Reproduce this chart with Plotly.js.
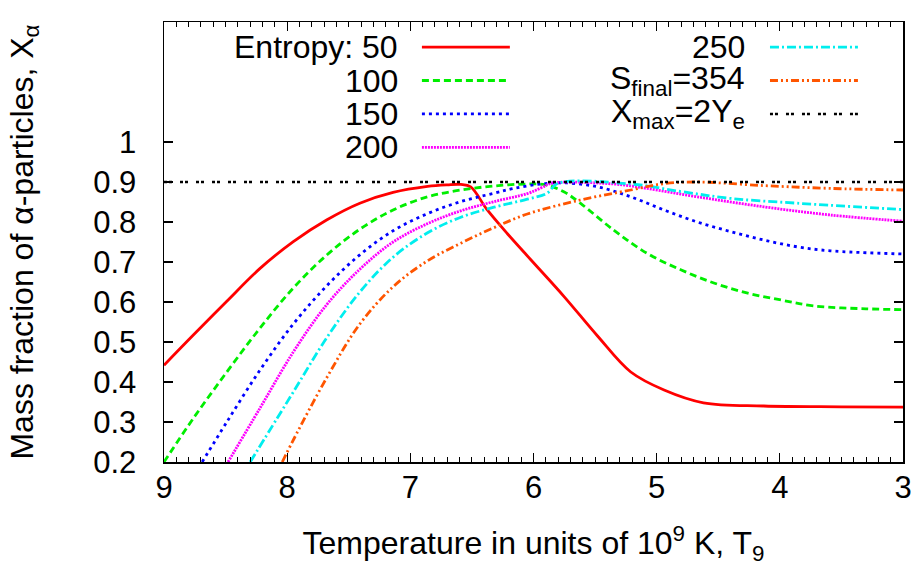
<!DOCTYPE html>
<html>
<head>
<meta charset="utf-8">
<script src="https://cdn.plot.ly/plotly-3.0.1.min.js"></script>
<style>html,body{margin:0;padding:0;background:#fff;}#chart{width:917px;height:570px;}</style>
</head>
<body>
<div id="chart"></div>
<script>
// Series data: temperature T9 and alpha mass fraction
const T50  = [9, 8.76, 8.49, 8.22, 7.95, 7.68, 7.41, 7.14, 6.86, 6.7, 6.59, 6.51, 6.38, 6.21, 6.02, 5.75, 5.48, 5.21, 4.94, 4.62, 4.13, 3.5, 3];
const X50  = [0.442, 0.518, 0.602, 0.684, 0.751, 0.805, 0.847, 0.874, 0.889, 0.893, 0.894, 0.888, 0.832, 0.77, 0.705, 0.613, 0.515, 0.425, 0.38, 0.348, 0.34, 0.338, 0.337];

const T100 = [9, 8.76, 8.49, 8.22, 7.95, 7.68, 7.41, 7.14, 6.86, 6.59, 6.32, 6.05, 5.9, 5.75, 5.62, 5.35, 5.08, 4.8, 4.53, 4.26, 3.99, 3.72, 3.3, 3];
const X100 = [0.2, 0.31, 0.425, 0.535, 0.635, 0.717, 0.782, 0.83, 0.863, 0.88, 0.89, 0.895, 0.893, 0.875, 0.847, 0.78, 0.722, 0.68, 0.647, 0.622, 0.605, 0.59, 0.583, 0.581];

const T150 = [8.69, 8.49, 8.22, 7.95, 7.68, 7.41, 7.14, 6.86, 6.59, 6.32, 6.16, 5.94, 5.75, 5.48, 5.21, 4.94, 4.67, 4.4, 4.13, 3.86, 3.59, 3];
const X150 = [0.2, 0.3, 0.43, 0.545, 0.64, 0.718, 0.778, 0.821, 0.851, 0.872, 0.884, 0.895, 0.898, 0.888, 0.863, 0.83, 0.8, 0.776, 0.755, 0.738, 0.728, 0.72];

const T200 = [8.48, 8.22, 7.95, 7.68, 7.41, 7.14, 6.86, 6.59, 6.32, 6.05, 5.94, 5.85, 5.35, 5.08, 4.67, 4.13, 3.59, 3];
const X200 = [0.2, 0.335, 0.475, 0.593, 0.682, 0.75, 0.796, 0.828, 0.851, 0.871, 0.885, 0.897, 0.895, 0.884, 0.863, 0.838, 0.8175, 0.802];

const T250 = [8.3, 8.08, 7.95, 7.68, 7.41, 7.14, 6.86, 6.59, 6.32, 6.05, 5.89, 5.8, 5.21, 4.8, 4.4, 3.86, 3];
const X250 = [0.2, 0.31, 0.375, 0.51, 0.625, 0.712, 0.773, 0.812, 0.837, 0.857, 0.872, 0.897, 0.895, 0.876, 0.859, 0.847, 0.831];

const T354 = [8.04, 7.95, 7.68, 7.41, 7.14, 6.86, 6.59, 6.32, 6.05, 5.62, 5.21, 4.94, 4.67, 4.13, 3.59, 3];
const X354 = [0.2, 0.255, 0.41, 0.545, 0.638, 0.703, 0.747, 0.786, 0.82, 0.855, 0.88, 0.896, 0.9, 0.891, 0.884, 0.88];

const TMAX = [9, 3];
const XMAX = [0.9, 0.9];

const yTickVals = [0.2, 0.3, 0.4, 0.5, 0.6, 0.7, 0.8, 0.9, 1.0];
const yTickText = ['0.2', '0.3', '0.4', '0.5', '0.6', '0.7', '0.8', '0.9', '1'];
const xTickVals = [9, 8, 7, 6, 5, 4, 3];

const legendLabels = ['Entropy: 50', '100', '150', '200', '250', 'S<sub>final</sub>=354', 'X<sub>max</sub>=2Y<sub>e</sub>'];

const FONT = 'Liberation Sans, Arial, Helvetica, sans-serif';
const styles = [
  {color: '#ff0000', dash: 'solid'},
  {color: '#00ee00', dash: '7px,4px'},
  {color: '#0000ff', dash: '3px,4px'},
  {color: '#ff00ff', dash: '2px,1px'},
  {color: '#00eeee', dash: '9px,3px,2px,3px'},
  {color: '#ff5500', dash: '8px,3px,2px,3px,2px,3px'},
  {color: '#000000', dash: '3px,2px,3px,8px'}
];
const series = [[T50, X50], [T100, X100], [T150, X150], [T200, X200], [T250, X250], [T354, X354], [TMAX, XMAX]];

const traces = series.map((s, i) => ({
  x: s[0], y: s[1], type: 'scatter', mode: 'lines',
  line: {color: styles[i].color, dash: styles[i].dash, width: i === 6 ? 2.5 : 2.8, shape: i === 6 ? 'linear' : 'spline', smoothing: 1},
  showlegend: false, hoverinfo: 'skip'
}));

// legend layout (paper coords)
const legPos = [
  {tx: 0.319, x0: 0.349, x1: 0.468, y: 0.943},
  {tx: 0.319, x0: 0.349, x1: 0.468, y: 0.867},
  {tx: 0.319, x0: 0.349, x1: 0.468, y: 0.791},
  {tx: 0.319, x0: 0.349, x1: 0.468, y: 0.715},
  {tx: 0.789, x0: 0.820, x1: 0.939, y: 0.943},
  {tx: 0.789, x0: 0.820, x1: 0.939, y: 0.867},
  {tx: 0.789, x0: 0.820, x1: 0.939, y: 0.791}
];
const annotations = legendLabels.map((t, i) => ({
  text: t, xref: 'paper', yref: 'paper', x: legPos[i].tx, y: legPos[i].y,
  xanchor: 'right', yanchor: 'middle', showarrow: false,
  font: {family: FONT, size: 32, color: '#000'}
}));
const shapes = legendLabels.map((t, i) => ({
  type: 'line', xref: 'paper', yref: 'paper',
  x0: legPos[i].x0, x1: legPos[i].x1, y0: legPos[i].y, y1: legPos[i].y,
  line: {color: styles[i].color, dash: styles[i].dash, width: i === 6 ? 2.5 : 2.8}
}));

const layout = {
  width: 917, height: 570,
  margin: {l: 164, r: 14, t: 22, b: 108},
  paper_bgcolor: '#fff', plot_bgcolor: '#fff',
  font: {family: FONT, size: 31, color: '#000'},
  showlegend: false,
  xaxis: {
    range: [9, 3], tickvals: xTickVals, ticks: 'inside', ticklen: 9, tickwidth: 1.2, tickcolor: '#000',
    minor: {dtick: 0.1, ticks: 'inside', ticklen: 5, tickwidth: 1, tickcolor: '#000', showgrid: false},
    showline: true, linecolor: '#000', linewidth: 1.5, mirror: 'allticks',
    showgrid: false, zeroline: false, ticklabelstandoff: -3,
    tickfont: {family: FONT, size: 31},
    title: {text: 'Temperature in units of 10<sup>9</sup> K, T<sub>9</sub>', font: {family: FONT, size: 32}, standoff: 28}
  },
  yaxis: {
    range: [0.2, 1.3], tickvals: yTickVals, ticktext: yTickText, ticks: 'inside', ticklen: 9, tickwidth: 1.2, tickcolor: '#000',
    showline: true, linecolor: '#000', linewidth: 1.5, mirror: 'allticks',
    showgrid: false, zeroline: false, ticklabelstandoff: 20,
    tickfont: {family: FONT, size: 31},
    title: {text: 'Mass fraction of α-particles, X<sub>α</sub>', font: {family: FONT, size: 32}, standoff: 50}
  },
  annotations: annotations,
  shapes: shapes
};

Plotly.newPlot('chart', traces, layout, {staticPlot: true});
</script>
</body>
</html>
